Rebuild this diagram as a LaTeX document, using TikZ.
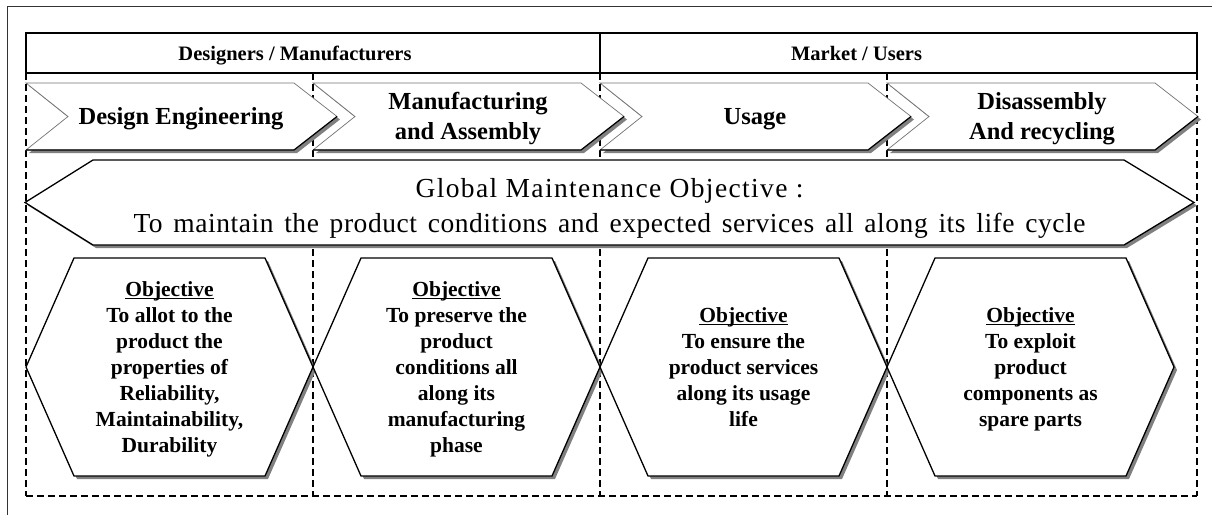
\documentclass[tikz,border=0pt]{standalone}
\usepackage{fontspec}
\setmainfont{Liberation Serif}
\newcommand\myul[1]{\leavevmode\setbox0\hbox{#1}\rlap{\rule[-2.8pt]{\wd0}{0.9pt}}\box0}
\tikzset{
  outerline/.style={draw=black!80, line width=0.9pt},
  hdrline/.style={draw=black, line width=1.6pt},
  dsh/.style={draw=black, line width=1.1pt, dash pattern=on 7pt off 4pt},
  shd/.style={fill=black!50, draw=none},
  chevline/.style={fill=white, draw=black!55, line width=0.7pt},
  chevdark/.style={draw=black, line width=1.2pt},
  shapeline/.style={fill=white, draw=black, line width=1.3pt, line join=miter},
  hdrtext/.style={font=\fontsize{20.5}{24}\selectfont\bfseries, inner sep=0pt},
  chevtext/.style={font=\fontsize{24.5}{29.5}\selectfont\bfseries, inner sep=0pt},
  hextext/.style={font=\fontsize{21.5}{26}\selectfont\bfseries, inner sep=0pt},
  bigtext/.style={font=\fontsize{27.5}{35}\selectfont, inner sep=0pt},
}
\begin{document}
\begin{tikzpicture}[x=1pt,y=-1pt]
\useasboundingbox (0,0) rectangle (1212,515);
% outer frame
\draw[outerline] (7,515) -- (7,6) -- (1212,6);
% dashed grid
\foreach \x in {26,313,600,887,1197} \draw[dsh] (\x,73) -- (\x,496);
\draw[dsh] (26,496) -- (1197,496);
% header
\draw[hdrline, fill=white] (26,33) rectangle (1197,73);
\draw[hdrline] (600,33) -- (600,73);
\node[hdrtext, anchor=base] (hA) at (295,60.5) {Designers / Manufacturers};
\node[hdrtext, anchor=base] (hB) at (856.5,60.5) {Market / Users};
% chevrons
\foreach \x in {26,313,600,887}{
  \fill[shd] (\x+3,86) -- (\x+271,86) -- (\x+314,119.5) -- (\x+271,153) -- (\x+3,153) -- (\x+45,119.5) -- cycle;
  \filldraw[chevline] (\x,83) -- (\x+268,83) -- (\x+311,116.5) -- (\x+268,150) -- (\x,150) -- (\x+42,116.5) -- cycle;
  \draw[chevdark] (\x+311,116.5) -- (\x+268,150) -- (\x,150);
}
\node[chevtext, anchor=base] (c1) at (181,124.5) {Design Engineering};
\node[chevtext, anchor=base] (c2) at (468,109.75) {\begin{tabular}[t]{@{}c@{}}Manufacturing\\and Assembly\end{tabular}};
\node[chevtext, anchor=base] (c3) at (755,124.5) {Usage};
\node[chevtext, anchor=base] (c4) at (1042,109.75) {\begin{tabular}[t]{@{}c@{}}Disassembly\\And recycling\end{tabular}};
% big double arrow
\fill[shd] (28,205.5) -- (96,163) -- (1127,163) -- (1197,205.5) -- (1127,248) -- (96,248) -- cycle;
\filldraw[shapeline] (25,202.5) -- (93,160) -- (1124,160) -- (1194,202.5) -- (1124,245) -- (93,245) -- cycle;
\node[bigtext, anchor=base] (g1) at (609.5,197) {\addfontfeature{LetterSpace=5}Global Maintenance Objective :};
\node[bigtext, anchor=base] (g2) at (609.5,232) {\makebox[952pt][s]{\addfontfeature{LetterSpace=2}To maintain the product conditions and expected services all along its life cycle}};
% hexagons
\foreach \x in {26,313,600,887}{
  \fill[shd] (\x+3,370) -- (\x+51,261) -- (\x+242,261) -- (\x+290,370) -- (\x+242,479) -- (\x+51,479) -- cycle;
  \filldraw[shapeline] (\x,367) -- (\x+48,258) -- (\x+239,258) -- (\x+287,367) -- (\x+239,476) -- (\x+48,476) -- cycle;
}
\node[hextext, anchor=base] (o1) at (169.5,296.5) {\begin{tabular}[t]{@{}c@{}}\myul{Objective}\\To allot to the\\product the\\properties of\\Reliability,\\Maintainability,\\Durability\end{tabular}};
\node[hextext, anchor=base] (o2) at (456.5,296.5) {\begin{tabular}[t]{@{}c@{}}\myul{Objective}\\To preserve the\\product\\conditions all\\along its\\manufacturing\\phase\end{tabular}};
\node[hextext, anchor=base] (o3) at (743.5,322.5) {\begin{tabular}[t]{@{}c@{}}\myul{Objective}\\To ensure the\\product services\\along its usage\\life\end{tabular}};
\node[hextext, anchor=base] (o4) at (1030.5,322.5) {\begin{tabular}[t]{@{}c@{}}\myul{Objective}\\To exploit\\product\\components as\\spare parts\end{tabular}};
\end{tikzpicture}
\end{document}
